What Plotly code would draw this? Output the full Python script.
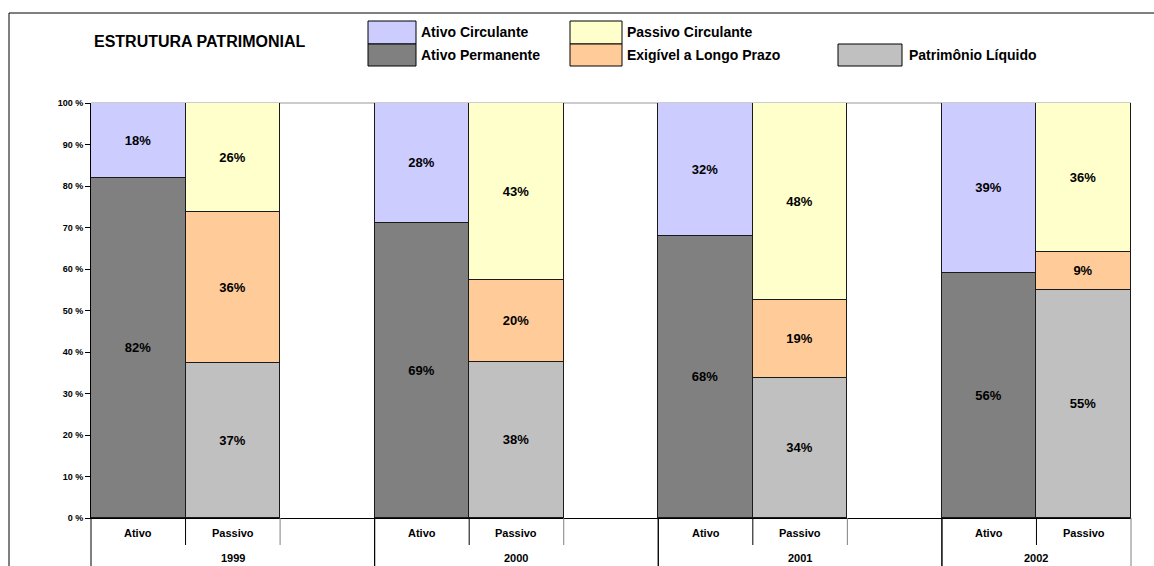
import plotly.graph_objects as go

# --- data -------------------------------------------------------------
years = ["1999", "2000", "2001", "2002"]
sides = ["Ativo", "Passivo"]

ativo_circulante = [18, 28, 32, 39]
ativo_permanente = [82, 69, 68, 56]
passivo_circulante = [26, 43, 48, 36]
exigivel_longo_prazo = [36, 20, 19, 9]
patrimonio_liquido = [37, 38, 34, 55]

y_ticks = [0, 10, 20, 30, 40, 50, 60, 70, 80, 90, 100]

colors = {
    "Ativo Circulante": "#CCCCFF",
    "Ativo Permanente": "#808080",
    "Passivo Circulante": "#FFFFCC",
    "Exigível a Longo Prazo": "#FFCC99",
    "Patrimônio Líquido": "#C0C0C0",
}

# --- category axis: (year, side) pairs plus a blank spacer between years --
outer, inner, slot = [], [], []
for i, yr in enumerate(years):
    for s in sides:
        outer.append(yr)
        inner.append(s)
        slot.append((i, s))
    if i < len(years) - 1:
        outer.append(yr)
        inner.append(" ")
        slot.append((i, None))
n_slots = len(slot)


def series_for(side, values):
    return [values[i] if s == side else None for i, s in slot]


W, H = 1154, 566
PX0, PX1, PY0, PY1 = 91, 1131, 103, 518  # plot area in pixels


def xp(px):
    return (px - PX0) / (PX1 - PX0)


def yp(py):
    return (PY1 - py) / (PY1 - PY0)


def slot_x(k):
    """paper x of slot boundary k (0..n_slots)"""
    return k / n_slots


FONT = "Arial, Liberation Sans, sans-serif"

fig = go.Figure()
stack = [
    ("Ativo Permanente", "Ativo", ativo_permanente),
    ("Patrimônio Líquido", "Passivo", patrimonio_liquido),
    ("Exigível a Longo Prazo", "Passivo", exigivel_longo_prazo),
    ("Ativo Circulante", "Ativo", ativo_circulante),
    ("Passivo Circulante", "Passivo", passivo_circulante),
]
for name, side, vals in stack:
    ys = series_for(side, vals)
    fig.add_trace(go.Bar(
        name=name,
        x=[outer, inner],
        y=ys,
        text=[f"{v}%" if v is not None else "" for v in ys],
        textposition="inside",
        insidetextanchor="middle",
        textangle=0,
        textfont=dict(family=FONT, size=13, color="#000000", weight="bold"),
        marker=dict(color=colors[name], line=dict(color="#1a1a1a", width=1)),
        showlegend=False,
        hoverinfo="skip",
    ))

fig.update_layout(
    width=W, height=H,
    margin=dict(l=PX0, r=W - PX1, t=PY0, b=H - PY1),
    barmode="stack",
    barnorm="percent",
    bargap=0,
    plot_bgcolor="white",
    paper_bgcolor="white",
    uniformtext=dict(mode=False),
    font=dict(family=FONT, color="#000000"),
)

fig.update_xaxes(
    type="multicategory",
    showline=True, linecolor="#000000", linewidth=1,
    ticks="", showticklabels=False, showdividers=False,
    showgrid=False, zeroline=False,
)
fig.update_yaxes(
    range=[0, 100],
    tickvals=y_ticks,
    ticktext=[f"{t} %" for t in y_ticks],
    tickfont=dict(family=FONT, size=9, color="#000000", weight="bold"),
    showline=True, linecolor="#000000", linewidth=1,
    ticks="outside", ticklen=5, tickcolor="#000000",
    showgrid=False, zeroline=False,
)

shapes = []
annotations = []

# chart frame (top and left edges)
shapes.append(dict(type="line", xref="paper", yref="paper",
                   x0=xp(9), x1=xp(W + 5), y0=yp(13), y1=yp(13),
                   line=dict(color="#000000", width=1)))
shapes.append(dict(type="line", xref="paper", yref="paper",
                   x0=xp(9), x1=xp(9), y0=yp(13), y1=yp(H + 5),
                   line=dict(color="#000000", width=1)))
# plot area top edge
shapes.append(dict(type="line", xref="paper", yref="paper",
                   x0=0, x1=1, y0=1, y1=1,
                   line=dict(color="#999999", width=1), layer="below"))

# category axis labels and separators
for gi, yr in enumerate(years):
    members = [k for k, (i, s) in enumerate(slot) if i == gi]
    g0, g1 = members[0], members[-1] + 1
    for k in members:
        side = slot[k][1]
        if side:
            annotations.append(dict(
                text=f"<b>{side}</b>", xref="paper", yref="paper",
                x=(slot_x(k) + slot_x(k + 1)) / 2, y=yp(533),
                xanchor="center", yanchor="middle", showarrow=False,
                font=dict(family=FONT, size=11, color="#000000"),
            ))
        if k + 1 < g1:
            shapes.append(dict(
                type="line", xref="paper", yref="paper",
                x0=slot_x(k + 1), x1=slot_x(k + 1), y0=0, y1=yp(545),
                line=dict(color="#000000" if side == "Ativo" else "#808080",
                          width=1)))
    annotations.append(dict(
        text=f"<b>{yr}</b>", xref="paper", yref="paper",
        x=(slot_x(g0) + slot_x(g1)) / 2, y=yp(558),
        xanchor="center", yanchor="middle", showarrow=False,
        font=dict(family=FONT, size=11, color="#000000"),
    ))
    for b in (g0, g1):
        shapes.append(dict(
            type="line", xref="paper", yref="paper",
            x0=slot_x(b), x1=slot_x(b), y0=0, y1=yp(H + 5),
            line=dict(color="#000000" if b < n_slots else "#808080",
                      width=1)))

# chart heading
annotations.append(dict(
    text="<b>ESTRUTURA PATRIMONIAL</b>", xref="paper", yref="paper",
    x=xp(92), y=yp(41), xanchor="left", yanchor="middle", showarrow=False,
    font=dict(family=FONT, size=16, color="#000000"),
))

# legend swatches: (name, box left, box right, box top, box bottom, text x)
legend_items = [
    ("Ativo Circulante", 368, 416, 21, 44, 419),
    ("Ativo Permanente", 368, 416, 44, 66, 419),
    ("Passivo Circulante", 570, 622, 21, 44, 625),
    ("Exigível a Longo Prazo", 570, 622, 44, 66, 625),
    ("Patrimônio Líquido", 838, 902, 44, 66, 907),
]
for name, bx0, bx1, by0, by1, tx in legend_items:
    shapes.append(dict(type="rect", xref="paper", yref="paper",
                       x0=xp(bx0), x1=xp(bx1), y0=yp(by1), y1=yp(by0),
                       fillcolor=colors[name],
                       line=dict(color="#000000", width=1)))
    annotations.append(dict(
        text=f"<b>{name}</b>", xref="paper", yref="paper",
        x=xp(tx), y=yp((by0 + by1) / 2), xanchor="left", yanchor="middle",
        showarrow=False, font=dict(family=FONT, size=14, color="#000000"),
    ))

fig.update_layout(shapes=shapes, annotations=annotations)

fig.write_html("out.html")
